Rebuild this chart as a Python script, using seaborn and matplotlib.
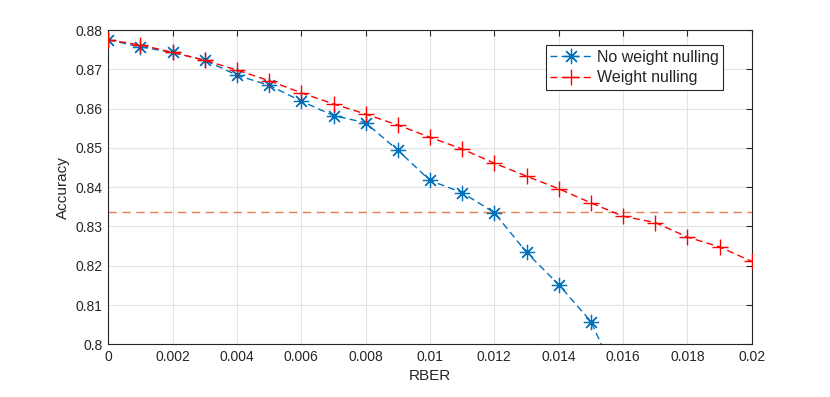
import numpy as np
import pandas as pd
import matplotlib
matplotlib.use("Agg")
import matplotlib.pyplot as plt
import seaborn as sns

# RBER values and accuracies
rber = [0, 0.001, 0.002, 0.003, 0.004, 0.005, 0.006, 0.007, 0.008, 0.009, 0.010,
        0.011, 0.012, 0.013, 0.014, 0.015, 0.016, 0.017, 0.018, 0.019, 0.020]
acc_no_null = [0.8775, 0.8757, 0.8743, 0.8723, 0.8685, 0.8659, 0.8619, 0.8582, 0.8564,
               0.8494, 0.8417, 0.8386, 0.8335, 0.8234, 0.8152, 0.8058, 0.7880]
acc_null = [0.8775, 0.8762, 0.8743, 0.8723, 0.8698, 0.8671, 0.8640, 0.8612, 0.8586,
            0.8558, 0.8527, 0.8497, 0.8461, 0.8428, 0.8396, 0.8360, 0.8326, 0.8310,
            0.8273, 0.8248, 0.8211]
threshold = 0.8337

sns.set_style("white")
plt.rcParams['font.family'] = ['Liberation Sans', 'DejaVu Sans']

fig = plt.figure(figsize=(8.3, 3.97), dpi=100)
ax = fig.add_axes([0.1305, 0.1327, 0.7752, 0.7917])

df1 = pd.DataFrame({"x": rber[:len(acc_no_null)], "y": acc_no_null})
df2 = pd.DataFrame({"x": rber, "y": acc_null})

blue = "#0072BD"
red = "#FF0000"

ax.axhline(threshold, color="#D95319", alpha=0.75, lw=1, ls=(0, (6, 4)), zorder=1)
sns.lineplot(data=df1, x="x", y="y", ax=ax, color=blue, lw=1.0,
             marker=(8, 2, 0), markersize=11, markeredgewidth=0.9,
             markeredgecolor=blue, markerfacecolor=blue,
             linestyle=(0, (5, 3)), label="No weight nulling", zorder=3)
sns.lineplot(data=df2, x="x", y="y", ax=ax, color=red, lw=1.0,
             marker="+", markersize=12, markeredgewidth=1.0,
             markeredgecolor=red, markerfacecolor=red,
             linestyle=(0, (5, 3)), label="Weight nulling", zorder=3)

ax.set_xlim(0, 0.02)
ax.set_ylim(0.8, 0.88)
ax.set_xticks(np.arange(0, 0.0201, 0.002))
ax.set_yticks(np.arange(0.8, 0.8801, 0.01))
ax.xaxis.set_major_formatter(plt.FuncFormatter(lambda v, p: f"{round(v, 3):g}"))
ax.yaxis.set_major_formatter(plt.FuncFormatter(lambda v, p: f"{round(v, 2):g}"))
ax.grid(True, color="#E3E3E3", lw=0.8)
ax.tick_params(direction="in", length=4, width=0.8, colors="#262626",
               labelsize=10, top=True, right=True, pad=4)
for s in ax.spines.values():
    s.set_color("#262626")
    s.set_linewidth(0.8)
ax.set_xlabel("RBER", fontsize=11, color="#262626")
ax.set_ylabel("Accuracy", fontsize=11, color="#262626")

leg = ax.legend(loc="upper right", bbox_to_anchor=(0.956, 0.953), fontsize=11.5,
                frameon=True, fancybox=False, framealpha=1, edgecolor="#262626",
                handlelength=2.6, borderpad=0.3, labelspacing=0.35, handletextpad=0.3,
                borderaxespad=0)
leg.get_frame().set_linewidth(0.8)

fig.savefig("out.png", dpi=100)
